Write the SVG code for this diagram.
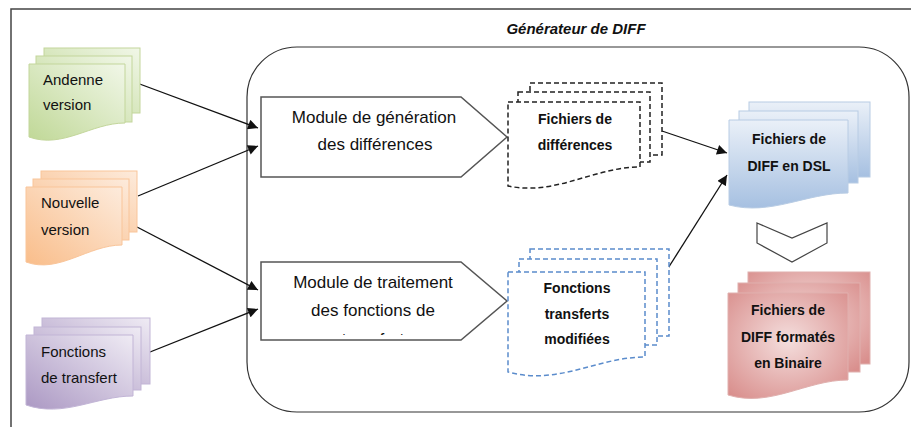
<svg xmlns="http://www.w3.org/2000/svg" width="911" height="427" viewBox="0 0 911 427">
<style>
.frame{fill:none;stroke:#444;stroke-width:1.5}
.group{fill:none;stroke:#333;stroke-width:1.2}
.title{font-family:"Liberation Sans",Arial,sans-serif;font-style:italic;font-weight:bold;font-size:15px;fill:#111}
.lbl{font-family:"Liberation Sans",Arial,sans-serif;font-size:15px;fill:#111}
.mod{fill:#fff;stroke:#555;stroke-width:1.5}
.modt{font-family:"Liberation Sans",Arial,sans-serif;font-size:17px;fill:#111;text-anchor:middle}
.bold{font-family:"Liberation Sans",Arial,sans-serif;font-size:14px;font-weight:bold;fill:#111;text-anchor:middle}
.dk{fill:#fff;stroke:#222;stroke-width:1.5;stroke-dasharray:5 3}
.db{fill:#fff;stroke:#5b8ccc;stroke-width:1.5;stroke-dasharray:5 3}
.g{fill:url(#gG);stroke:#c3d69b;stroke-width:1}
.o{fill:url(#gO);stroke:#f9c59a;stroke-width:1}
.p{fill:url(#gP);stroke:#c2b5d6;stroke-width:1}
.b{fill:url(#gB);stroke:#b8cce4;stroke-width:1}
.r{fill:url(#gR);stroke:#e0b0ae;stroke-width:1}
.conn{fill:none;stroke:#111;stroke-width:1.3;marker-end:url(#ah)}
</style>
<defs>
<linearGradient id="gG" x1="0" y1="1" x2="1" y2="0"><stop offset="0" stop-color="#c0d897"/><stop offset="1" stop-color="#f1f7e8"/></linearGradient>
<linearGradient id="gO" x1="0" y1="1" x2="1" y2="0"><stop offset="0" stop-color="#f9bd8a"/><stop offset="1" stop-color="#fdebdc"/></linearGradient>
<linearGradient id="gP" x1="0" y1="1" x2="1" y2="0"><stop offset="0" stop-color="#ab98c3"/><stop offset="1" stop-color="#efebf4"/></linearGradient>
<linearGradient id="gB" x1="0" y1="0" x2="0" y2="1"><stop offset="0" stop-color="#eaf0f8"/><stop offset="1" stop-color="#a6c0e1"/></linearGradient>
<radialGradient id="gR" cx="0.5" cy="0.45" r="0.7"><stop offset="0" stop-color="#f4dedd"/><stop offset="1" stop-color="#d98f8d"/></radialGradient>
<marker id="ah" viewBox="0 0 10 10" refX="10" refY="5" markerWidth="11" markerHeight="10" markerUnits="userSpaceOnUse" orient="auto"><path d="M0,0 L10,5 L0,10 Z" fill="#111"/></marker>
<clipPath id="m2clip"><rect x="261" y="262" width="240" height="73"/></clipPath>
</defs>

<path class="frame" d="M11,427 V9 H911"/>
<rect class="group" x="247" y="47" width="662" height="365" rx="50" ry="50"/>
<text class="title" x="576" y="34" text-anchor="middle">Générateur de DIFF</text>

<g id="connectors">
<line class="conn" x1="137" y1="83" x2="258" y2="128"/>
<line class="conn" x1="138" y1="196" x2="258" y2="146"/>
<line class="conn" x1="137" y1="227" x2="258" y2="290"/>
<line class="conn" x1="140" y1="356" x2="258" y2="309"/>
<line class="conn" x1="662" y1="131" x2="727" y2="153"/>
<line class="conn" x1="653" y1="292" x2="727" y2="175"/>
</g>

<g id="ancienne">
<rect class="g" x="44" y="48" width="96" height="65"/>
<rect class="g" x="36" y="56" width="96" height="66"/>
<path class="g" d="M29,64 H125 V123 C91,123 63,149 29,137 Z"/>
<text class="lbl" x="43" y="85">Andenne</text>
<text class="lbl" x="43" y="110">version</text>
</g>

<g id="nouvelle">
<rect class="o" x="41" y="171" width="96" height="61"/>
<rect class="o" x="33" y="179" width="96" height="61"/>
<path class="o" d="M26,187 H122 V245 C88,245 59,274 26,262 Z"/>
<text class="lbl" x="41" y="208">Nouvelle</text>
<text class="lbl" x="41" y="235">version</text>
</g>

<g id="fonctions">
<rect class="p" x="42" y="318" width="108" height="66"/>
<rect class="p" x="34" y="327" width="107" height="63"/>
<path class="p" d="M26,335 H133 V396 C96,396 64,418 26,405 Z"/>
<text class="lbl" x="41" y="357">Fonctions</text>
<text class="lbl" x="41" y="383">de transfert</text>
</g>

<g id="module1">
<path class="mod" d="M261,97 H461 L507,137 L461,177 H261 Z"/>
<text class="modt" x="374" y="123">Module de génération</text>
<text class="modt" x="375" y="150">des différences</text>
</g>

<g id="module2">
<path class="mod" d="M261,262 H461 L507,301 L461,340 H261 Z"/>
<text class="modt" x="373" y="288">Module de traitement</text>
<text class="modt" x="373" y="316">des fonctions de</text>
<text class="modt" x="373" y="345" clip-path="url(#m2clip)">transfert</text>
</g>

<g id="fichiers-diff">
<rect class="dk" x="530" y="83" width="132" height="72"/>
<rect class="dk" x="518" y="92" width="132" height="70"/>
<path class="dk" d="M508,102 H640 V167 C594,167 556,196 508,186 Z"/>
<text class="bold" x="575" y="124">Fichiers de</text>
<text class="bold" x="575" y="150">différences</text>
</g>

<g id="fonctions-modifiees">
<rect class="db" x="530" y="249" width="139" height="87"/>
<rect class="db" x="519" y="259" width="138" height="86"/>
<path class="db" d="M508,272 H645 V357 C597,357 558,386 508,372 Z"/>
<text class="bold" x="577" y="293">Fonctions</text>
<text class="bold" x="577" y="319">transferts</text>
<text class="bold" x="577" y="344">modifiées</text>
</g>

<g id="diff-dsl">
<rect class="b" x="749" y="102" width="121" height="75"/>
<rect class="b" x="739" y="111" width="119" height="72"/>
<path class="b" d="M729,120 H848 V193 C806,193 771,216 729,205 Z"/>
<text class="bold" x="789" y="144">Fichiers de</text>
<text class="bold" x="789" y="171">DIFF en DSL</text>
</g>

<g id="chevron">
<path d="M757,223 L792,238 L827,223 L827,243 L792,262 L757,243 Z" fill="#fff" stroke="#444" stroke-width="1.2"/>
</g>

<g id="diff-binaire">
<rect class="r" x="748" y="272" width="122" height="92"/>
<rect class="r" x="738" y="283" width="122" height="89"/>
<path class="r" d="M728,293 H848 V380 C806,380 770,408 728,395 Z"/>
<text class="bold" x="788" y="315">Fichiers de</text>
<text class="bold" x="788" y="342">DIFF formatés</text>
<text class="bold" x="788" y="368">en Binaire</text>
</g>
</svg>
